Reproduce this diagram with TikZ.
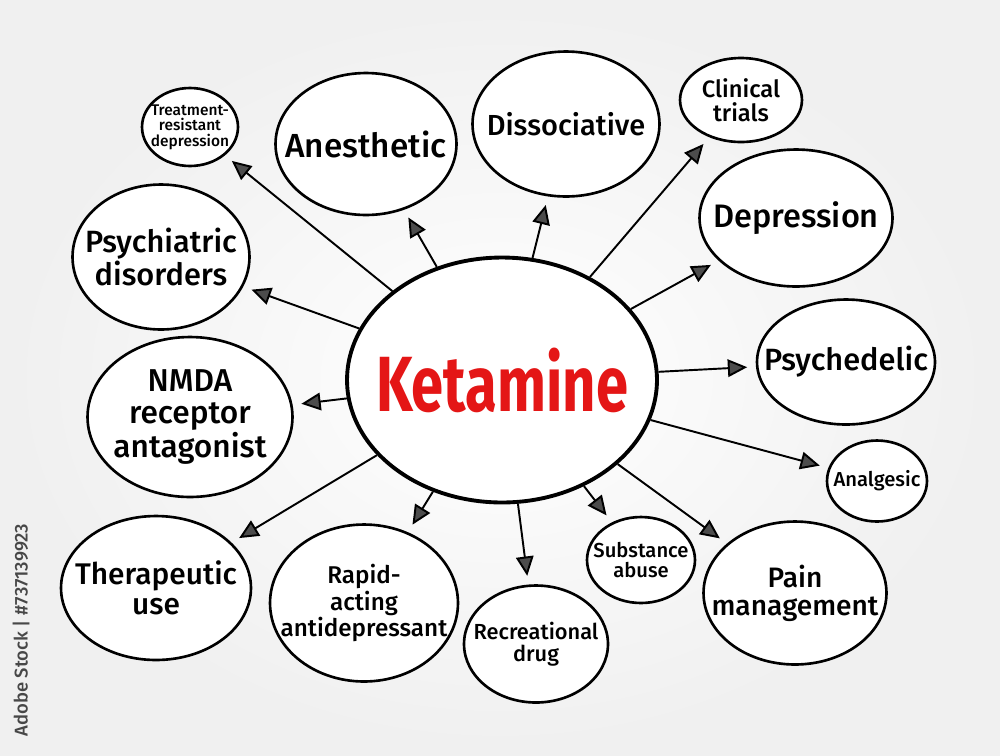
\documentclass[tikz,border=0pt]{standalone}
\usepackage{fontspec}
\setmainfont{Fira Sans}[UprightFont={* Medium}, BoldFont={* Bold}]
\usetikzlibrary{arrows.meta,shapes.geometric}

\definecolor{ketred}{RGB}{228,22,22}

\tikzset{
  bubble/.style args={#1/#2}{ellipse, draw, fill=white, line width=1.5pt,
    minimum width=#1, minimum height=#2, inner sep=0pt},
  txt/.style={align=center, font=\fontsize{#1}{#1}\selectfont},
  spoke/.style={line width=1.1pt, shorten >=5pt,
    -{Triangle[length=11pt,width=10pt,fill=black!70]}},
}

\begin{document}
\begin{tikzpicture}[x=0.02cm, y=-0.02cm]
    % background
    \shade[inner color=white, outer color=black!6] (0,0) rectangle (1000,755);
    \useasboundingbox (0,0) rectangle (1000,755);
    \node[rotate=90, text=black!72, font=\fontsize{10.5}{10.5}\selectfont] (stockid) at (21,630) {Adobe Stock | \#737139923};

    % centre
    \node[bubble={6.2cm/4.9cm}, line width=2.2pt,
      label={[text=ketred, font=\fontsize{33}{33}\selectfont\bfseries]center:\scalebox{1}[1.35]{Ketamine}}] (ket) at (502,380) {};

    % upper ring
    \node[bubble={1.92cm/1.56cm}, label={[txt=8.8]center:Treatment-\\resistant\\depression}] (trd) at (190,127) {};
    \node[bubble={3.62cm/2.84cm}, label={[txt=19]center:Anesthetic}] (anes) at (366,144) {};
    \node[bubble={3.74cm/2.9cm}, label={[txt=16.5]center:Dissociative}] (diss) at (566,124) {};
    \node[bubble={2.44cm/1.68cm}, label={[txt=13.5]center:Clinical\\trials}] (clin) at (741,100) {};
    \node[bubble={3.86cm/2.74cm}, label={[txt=18.5]center:Depression}] (depr) at (796,218) {};
    \node[bubble={3.54cm/2.9cm}, label={[txt=17.5]center:Psychiatric\\disorders}] (psych) at (161,257) {};

    % middle
    \node[bubble={3.56cm/2.5cm}, label={[txt=17.5]center:Psychedelic}] (psyd) at (846,362) {};
    \node[bubble={4.1cm/3.2cm}, label={[txt=18]center:NMDA\\receptor\\antagonist}] (nmda) at (190,417) {};
    \node[bubble={2.0cm/1.62cm}, label={[txt=11.5]center:Analgesic}] (analg) at (877,481) {};

    % lower ring
    \node[bubble={3.8cm/2.88cm}, label={[txt=17]center:Therapeutic\\use}] (ther) at (156,588) {};
    \node[bubble={3.76cm/3.14cm}, label={[txt=13.8]center:Rapid-\\acting\\antidepressant}] (rapid) at (364,603) {};
    \node[bubble={2.88cm/2.34cm}, label={[txt=12.4]center:Recreational\\drug}] (recr) at (536,644) {};
    \node[bubble={2.16cm/1.72cm}, label={[txt=11.5]center:Substance\\abuse}] (subs) at (641,560) {};
    \node[bubble={3.66cm/2.86cm}, label={[txt=16]center:Pain\\management}] (pain) at (795,593) {};

    % arrows
    \foreach \t in {trd,anes,diss,clin,depr,psych,psyd,nmda,analg,ther,rapid,recr,subs,pain}
        \draw[spoke] (ket) -- (\t);
\end{tikzpicture}
\end{document}
